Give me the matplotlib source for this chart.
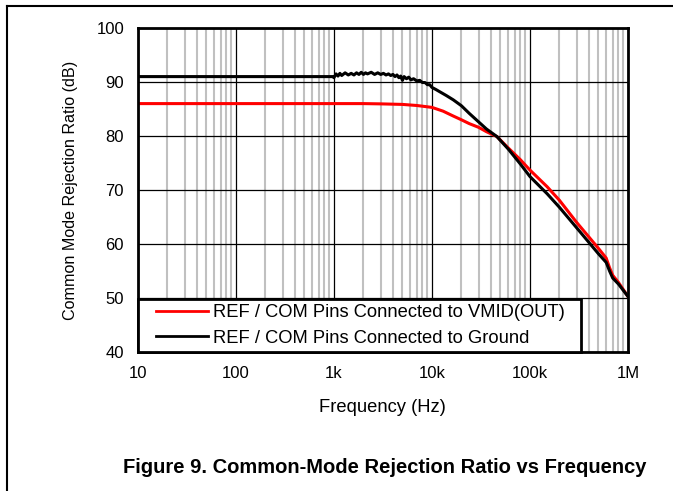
import matplotlib.pyplot as plt
import matplotlib.ticker as ticker
from matplotlib.lines import Line2D
from matplotlib.legend_handler import HandlerLine2D
import numpy as np

plt.rcParams['font.family'] = ['Liberation Sans', 'DejaVu Sans']

# REF / COM pins connected to VMID(OUT)
freq_red = [10, 100, 1000, 2000, 3000, 5000, 7000, 10000, 13000, 16500, 20000,
            24000, 30000, 36000, 46000, 60000, 80000, 100000, 150000, 200000,
            300000, 400000, 500000, 600000, 650000, 700000, 800000, 1000000]
cmrr_red = [86.0, 86.0, 86.0, 86.0, 85.95, 85.85, 85.65, 85.3, 84.6, 83.7, 83.0,
            82.3, 81.6, 80.8, 79.9, 77.8, 75.6, 73.7, 70.6, 68.1,
            64.0, 61.3, 59.2, 57.4, 55.6, 54.2, 52.9, 50.3]

# REF / COM pins connected to ground
freq_blk = [10, 100, 980,
            1000, 1050, 1100, 1150, 1200, 1300, 1400, 1500, 1600, 1700, 1800,
            1900, 2000, 2100, 2200, 2400, 2600, 2800, 3000, 3200, 3400, 3600,
            3800, 4000, 4200, 4400, 4600, 4800, 5000, 5200, 5500, 5800, 6100,
            6500, 7000, 7500, 8000, 8500, 9000, 9500, 10000,
            11000, 12000, 14000, 16500, 20000, 24000, 30000, 36000,
            46000, 60000, 80000, 100000, 150000, 200000, 300000, 400000,
            500000, 600000, 650000, 700000, 800000, 1000000]
cmrr_blk = [91.0, 91.0, 91.0,
            90.8, 91.5, 91.1, 91.6, 91.2, 91.7, 91.3, 91.6, 91.3, 91.7, 91.4,
            91.8, 91.4, 91.7, 91.5, 91.8, 91.4, 91.7, 91.4, 91.6, 91.3, 91.5,
            91.2, 91.4, 91.0, 91.3, 90.8, 91.1, 90.3, 91.0, 90.6, 90.9, 90.4,
            90.6, 90.2, 90.3, 89.9, 89.9, 89.5, 89.5, 89.0,
            88.6, 88.2, 87.5, 86.7, 85.6, 84.2, 82.6, 81.3,
            79.9, 77.6, 74.8, 72.5, 69.3, 66.8, 63.0, 60.3,
            58.2, 56.6, 55.0, 53.7, 52.6, 50.3]

x_ticks = [10, 100, 1000, 10000, 100000, 1000000]
x_labels = ['10', '100', '1k', '10k', '100k', '1M']
y_ticks = [40, 50, 60, 70, 80, 90, 100]


class ShiftedLine(HandlerLine2D):
    # legend line starts a bit to the right, like the original
    def get_xdata(self, legend, xdescent, ydescent, width, height, fontsize):
        xd, xm = super().get_xdata(legend, xdescent, ydescent, width, height, fontsize)
        xd = [xd[0] + 0.2 * width, xd[1]]
        return xd, xm


fig = plt.figure(figsize=(6.73, 4.91), dpi=100)
ax = fig.add_axes([0.205, 0.283, 0.728, 0.66])

ax.set_xscale('log')
ax.set_xlim(10, 1e6)
ax.set_ylim(40, 100)

ax.xaxis.set_minor_locator(ticker.LogLocator(base=10, subs=np.arange(2, 10)))
ax.grid(which='minor', axis='x', color='#c0c0c0', linewidth=1.5)
ax.grid(which='major', axis='both', color='black', linewidth=0.9)
ax.set_axisbelow(True)

ax.plot(freq_red, cmrr_red, color='#ff0000', linewidth=2.2)
ax.plot(freq_blk, cmrr_blk, color='black', linewidth=2.2)

ax.set_xticks(x_ticks)
ax.set_xticklabels(x_labels)
ax.set_yticks(y_ticks)
ax.tick_params(which='both', length=0, labelsize=12, pad=10)
ax.tick_params(axis='y', pad=10)
for s in ax.spines.values():
    s.set_linewidth(2)

ax.set_xlabel('Frequency (Hz)', fontsize=13.2, labelpad=13)
ax.set_ylabel('Common Mode Rejection Ratio (dB)', fontsize=11.6, labelpad=13)

handles = [Line2D([], [], color='#ff0000', linewidth=2),
           Line2D([], [], color='black', linewidth=2)]
leg = ax.legend(handles, ['REF / COM Pins Connected to VMID(OUT)',
                          'REF / COM Pins Connected to Ground'],
                loc='lower left', bbox_to_anchor=(0, 0, 0.904, 0.2), mode='expand',
                borderaxespad=0,
                fontsize=13.2, frameon=True, fancybox=False, framealpha=1,
                edgecolor='black', handlelength=3.5, handletextpad=0.27,
                borderpad=0.3, labelspacing=0.45,
                handler_map={Line2D: ShiftedLine()})
leg.get_frame().set_linewidth(2)

fig.text(0.572, 0.047, 'Figure 9. Common-Mode Rejection Ratio vs Frequency',
         ha='center', va='center', fontsize=14.5, fontweight='bold')

# page frame lines (top and left)
fig.add_artist(Line2D([0.0105, 1.0], [0.988, 0.988], color='black', linewidth=1.5,
                      transform=fig.transFigure))
fig.add_artist(Line2D([0.0105, 0.0105], [0.0, 0.988], color='black', linewidth=1.5,
                      transform=fig.transFigure))

fig.savefig('out.png', dpi=100)
